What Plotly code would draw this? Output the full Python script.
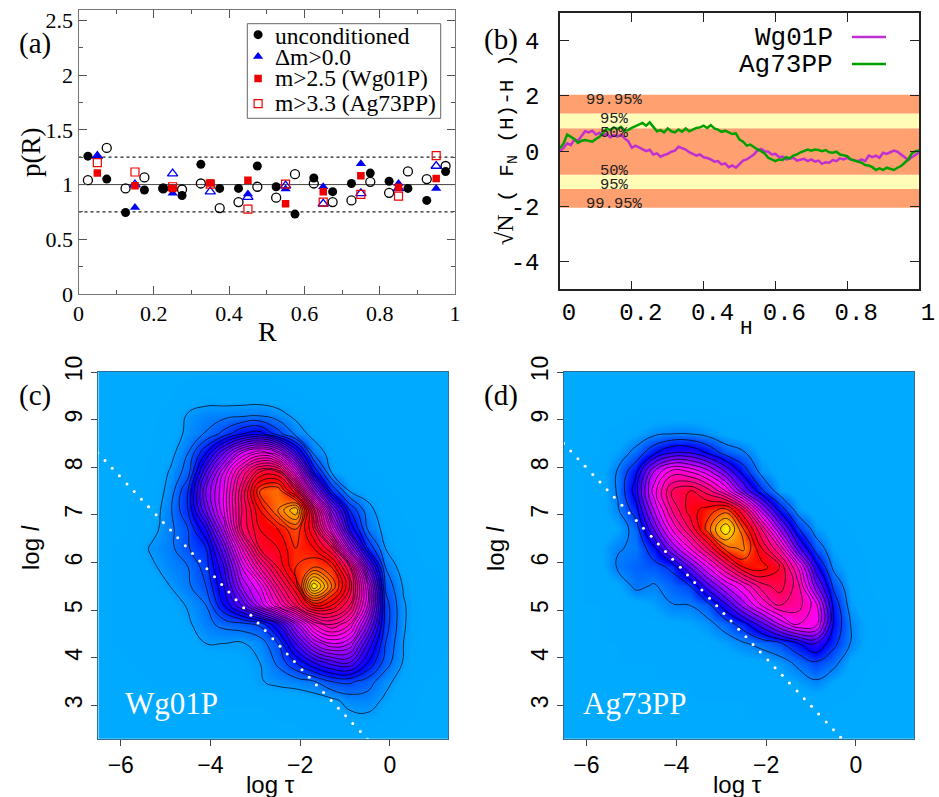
import plotly.graph_objects as go

W, H = 939, 797

# ---------- panel (a) ----------
R_half = [.025,.075,.125,.175,.225,.275,.325,.375,.425,.475,.525,.575,.625,.675,.725,.775,.825,.875,.925,.975]
uncond_filled = [1.26,1.05,.745,.95,.965,.90,1.185,.965,.965,1.17,.98,.73,1.06,.935,1.01,1.105,1.03,.965,.855,1.12]
uncond_open = [1.04,1.335,.965,1.065,.965,.955,1.01,.785,.84,.98,.88,1.095,1.01,.84,.855,1.025,.925,1.12,1.05,1.17]
R_tenth = [.05,.15,.25,.35,.45,.55,.65,.75,.85,.95]
dm_filled = [1.26,.79,.92,1.01,.915,.96,.98,1.19,1.01,.965]
dm_open = [1.26,1.0,1.10,.935,.885,.99,.825,.92,.965,1.17]
m_wg = [1.105,.99,.965,1.015,1.04,.825,.935,1.08,.975,1.055]
m_ag = [1.2,1.115,.98,1.005,.775,1.005,.84,.91,.895,1.265]
legend_labels = ["unconditioned", "Δm>0.0", "m>2.5 (Wg01P)", "m>3.3 (Ag73PP)"]

# ---------- panel (b) ----------
H_vals = [i/100 for i in range(101)]
wg01p = [0,.12,.28,.22,.42,.38,.55,.72,.68,.74,.60,.66,.58,.63,.50,.58,.53,.60,.46,.36,.12,.2,.14,.06,0,.05,-.12,-.08,-.2,-.14,-.1,-.02,.02,.16,.1,.06,-.04,-.1,-.16,-.12,-.22,-.25,-.3,-.38,-.36,-.48,-.44,-.58,-.52,-.6,-.46,-.34,-.3,-.22,-.12,.02,.08,.0,-.02,-.12,-.1,-.22,-.2,-.3,-.26,-.24,-.34,-.3,-.28,-.36,-.3,-.38,-.34,-.46,-.4,-.42,-.32,-.36,-.26,-.3,-.24,-.3,-.34,-.36,-.3,-.36,-.16,-.22,-.16,-.24,-.06,-.1,-.04,.02,-.02,-.12,-.22,-.32,-.22,-.14,-.05]
ag73pp = [.1,.28,.6,.52,.44,.3,.38,.4,.36,.34,.44,.52,.66,.82,.76,.86,.8,.88,.74,.76,.84,.9,.96,1.02,.92,1.04,.88,.72,.76,.68,.82,.72,.68,.78,.7,.82,.72,.78,.84,.86,.92,.84,.94,.82,.78,.7,.74,.68,.62,.64,.42,.34,.2,.24,.14,.06,.0,-.08,-.24,-.3,-.36,-.3,-.32,-.22,-.26,-.16,-.12,-.04,.02,.06,.02,.06,.04,.0,.04,-.04,-.06,-.02,-.12,-.14,-.18,-.3,-.34,-.4,-.42,-.5,-.52,-.58,-.68,-.62,-.68,-.6,-.64,-.68,-.6,-.54,-.42,-.3,-.08,.0,.02]
band_edges = [-2.05,-1.37,-.85,.83,1.36,2.04]
band_notes = [("99.95%",.151,1.84),("95%",.151,1.15),("50%",.151,.64),("50%",.151,-.72),("95%",.151,-1.24),("99.95%",.151,-1.93)]

# ---------- panels (c), (d) ----------
log_tau = [-6.5,-6.1,-5.7,-5.3,-4.9,-4.5,-4.1,-3.7,-3.3,-2.9,-2.5,-2.1,-1.7,-1.3,-.9,-.5,-.1,.3,.7,1.3]
log_l = [2.3,2.7,3.1,3.5,3.9,4.3,4.7,5.1,5.5,5.9,6.3,6.7,7.1,7.5,7.9,8.3,8.7,9.1,9.5,10]
wg_density = [
 [.0,.0,.0,.0,.0,.0,.0,.0,.0,.0,.0,.0,.05,.1,.1,.1,.05,.0,.0,.0],
 [.05,.05,.05,.05,.05,.05,.05,.05,.05,.05,.1,.1,.2,.3,.6,.7,.4,.1,.05,.0],
 [.05,.05,.05,.05,.05,.05,.1,.1,.1,.1,.1,.2,.4,.7,1.4,1.5,.8,.2,.05,.0],
 [.05,.05,.05,.1,.1,.1,.15,.2,.4,.9,1.3,1.5,1.9,3,3.2,2.5,1.3,.5,.1,.0],
 [.05,.05,.1,.1,.1,.15,.2,.3,.6,1,2.2,4,6,7.5,8,5,2.5,.9,.2,.05],
 [.05,.1,.1,.1,.2,.3,1,1,.9,1.4,3,7,11,13,12,7,3,1,.3,.05],
 [.05,.1,.1,.15,.3,.8,1.7,2.3,2.6,3.2,6,11,16,18,16,10,3.5,1.1,.3,.05],
 [.05,.1,.1,.2,.5,1.1,2,5,8,12,16,20,24,23,20,13,3.5,1.1,.3,.05],
 [.05,.1,.1,.3,1,1.8,3,6,11,14,19,23,32,27,22,13,2.8,.9,.2,.05],
 [.05,.1,.1,.8,1.5,2,3.5,7,13,18,22,25,26,25,20,9,2,.4,.1,.05],
 [.05,.1,.2,1.2,1.7,2.9,4,9,16,22,23,25,24,21,11,4,1,.2,.05,.0],
 [.05,.05,.1,.6,1.7,3,6,12,20,23,24,26,22,14,6,2,.6,.1,.05,.0],
 [.05,.05,.1,.3,1.8,4,9,14,20,24,27,30,20,10,4,1.4,.3,.05,.0,.0],
 [.05,.05,.1,.2,1.4,4,10,14,20,26,27,22,11,4,1,.5,.1,.05,.0,.0],
 [.05,.05,.05,.1,1.1,2.5,8,13,18,22,22,14,5,.9,.3,.1,.05,.0,.0,.0],
 [.0,.05,.05,.1,.6,2,5,9,13,15,13,7,1.8,.5,.1,.05,.0,.0,.0,.0],
 [.0,.0,.05,.05,.3,1.3,2.1,3.4,5,5.5,3.5,1.7,.6,.2,.05,.0,.0,.0,.0,.0],
 [.0,.0,.0,.05,.2,1.1,1.5,1.6,1.7,1.8,1.4,.7,.2,.05,.0,.0,.0,.0,.0,.0],
 [.0,.0,.0,.0,.05,.3,.4,.3,.3,.3,.2,.1,.05,.0,.0,.0,.0,.0,.0,.0],
 [.0,.0,.0,.0,.0,.0,.05,.05,.05,.05,.0,.0,.0,.0,.0,.0,.0,.0,.0,.0],
]
ag_density = [
 [.0]*20,
 [.0,.0,.0,.0,.0,.0,.05,.05,.05,.05,.05,.05,.05,.05,.05,.05,.0,.0,.0,.0],
 [.0,.0,.0,.0,.05,.05,.05,.05,.05,.05,.05,.1,.1,.1,.1,.05,.05,.0,.0,.0],
 [.0,.0,.0,.05,.05,.05,.05,.05,.1,.1,.1,.1,.2,.5,.9,.4,.1,.0,.0,.0],
 [.0,.0,.05,.05,.05,.05,.1,.1,.1,.15,.2,.3,.6,1.2,1.9,1.3,.3,.05,.0,.0],
 [.0,.05,.05,.05,.1,.1,.15,.2,.3,.5,.9,1.3,1.8,2.9,4,2.3,.9,.2,.05,.0],
 [.0,.05,.05,.1,.1,.2,.3,.4,.7,1.4,2.5,4.5,7,9,8.5,2.9,.9,.2,.05,.0],
 [.0,.05,.05,.1,.2,.5,.95,1.0,1.6,3.7,6.5,9,11,10.5,8.5,2.7,.5,.1,.0,.0],
 [.0,.05,.1,.3,1.2,.9,1.4,1.9,4.5,7,9,11.5,12.5,10.5,5.5,1.8,.3,.05,.0,.0],
 [.0,.05,.2,1.1,1.4,1.6,2.2,5,8,11,14,14.5,13,9,3.5,.8,.2,.05,.0,.0],
 [.0,.05,.3,.95,1.1,2.7,6,9,12,15.5,16.3,13,10,4.5,1.6,.4,.1,.0,.0,.0],
 [.0,.05,.1,.4,1.4,5,9,12,15.5,19,15,11,6,2.2,.6,.1,.05,.0,.0,.0],
 [.0,.05,.1,.9,2.5,7,11,13.5,14.5,15.5,12,6.5,2.7,.6,.1,.05,.0,.0,.0,.0],
 [.0,.05,.1,1.1,3.5,8.5,12,13,11.5,9,5,2.2,.5,.1,.05,.0,.0,.0,.0,.0],
 [.0,.05,.1,1.1,2.8,7,9.5,9,7.5,5,2.5,.7,.2,.05,.0,.0,.0,.0,.0,.0],
 [.0,.0,.05,.5,1.3,2.8,4,4,2.9,1.6,1.1,.3,.1,.0,.0,.0,.0,.0,.0,.0],
 [.0,.0,.05,.1,.4,.8,1,1,.7,.3,.1,.05,.0,.0,.0,.0,.0,.0,.0,.0],
 [.0,.0,.0,.0,.05,.1,.1,.1,.1,.05,.05,.0,.0,.0,.0,.0,.0,.0,.0,.0],
 [.0]*20,
 [.0]*20,
]
dots_c_x = [-6.51,-6.35,-6.19,-6.03,-5.86,-5.70,-5.54,-5.38,-5.21,-5.05,-4.89,-4.73,-4.56,-4.40,-4.24,-4.08,-3.91,-3.75,-3.59,-3.43,-3.26,-3.10,-2.94,-2.78,-2.61,-2.45,-2.29,-2.13,-1.96,-1.80,-1.64,-1.48,-1.31,-1.15,-.99,-.83,-.66,-.50]
dots_c_y = [8.30,8.14,7.98,7.82,7.65,7.49,7.33,7.17,7.00,6.84,6.68,6.52,6.35,6.19,6.03,5.87,5.70,5.54,5.38,5.22,5.05,4.89,4.73,4.57,4.40,4.24,4.08,3.92,3.75,3.59,3.43,3.27,3.10,2.94,2.78,2.62,2.45,2.29]
dots_d_x = [-6.51,-6.35,-6.19,-6.03,-5.86,-5.70,-5.54,-5.38,-5.21,-5.05,-4.89,-4.73,-4.56,-4.40,-4.24,-4.08,-3.91,-3.75,-3.59,-3.43,-3.26,-3.10,-2.94,-2.78,-2.61,-2.45,-2.29,-2.13,-1.96,-1.80,-1.64,-1.48,-1.31,-1.15,-.99,-.83,-.66,-.50,-.34]
dots_d_y = [8.50,8.34,8.18,8.02,7.85,7.69,7.53,7.37,7.20,7.04,6.88,6.72,6.55,6.39,6.23,6.07,5.90,5.74,5.58,5.42,5.25,5.09,4.93,4.77,4.60,4.44,4.28,4.12,3.95,3.79,3.63,3.47,3.30,3.14,2.98,2.82,2.65,2.49,2.33]

SERIF = "Liberation Serif"
SANS = "Liberation Sans"
MONO = "Liberation Mono"

def px(x): return x / W
def py(y): return 1 - y / H

fig = go.Figure()

def note(text, x, y, font, size, color="black", angle=0, xa="center", ya="middle"):
    fig.add_annotation(text=text, x=px(x), y=py(y), xref="paper", yref="paper", showarrow=False,
                       font=dict(family=font, size=size, color=color), textangle=angle,
                       xanchor=xa, yanchor=ya, align="center")

BLUE, RED = "#0000ee", "#ee0000"
def pts(x, y, sym, color, size=10, lw=1.6):
    fig.add_trace(go.Scatter(x=x, y=y, mode="markers", xaxis="x", yaxis="y", showlegend=False,
                             marker=dict(symbol=sym, color=color, size=size, line=dict(color=color, width=lw))))
fig.add_trace(go.Scatter(x=[0,1], y=[1,1], mode="lines", line=dict(color="#444", width=1), showlegend=False, xaxis="x", yaxis="y"))
for v in (.75, 1.25):
    fig.add_trace(go.Scatter(x=[0,1], y=[v,v], mode="lines", line=dict(color="#222", width=1.2, dash="dot"), showlegend=False, xaxis="x", yaxis="y"))
pts(R_half, uncond_open, "circle-open", "black", 9, 1.3)
pts(R_half, uncond_filled, "circle", "black", 9, 0)
pts(R_tenth, dm_open, "triangle-up-open", BLUE, 9, 1.3)
pts(R_tenth, dm_filled, "triangle-up", BLUE, 9, 0)
pts(R_tenth, m_ag, "square-open", RED, 8, 1.2)
pts(R_tenth, m_wg, "square", RED, 7.5, 0)
key_x = [.477]
for yv, sym, col, s in zip([2.37, 2.17, 1.97, 1.74], ["circle","triangle-up","square","square-open"], ["black",BLUE,RED,RED], [9,9,7.5,8]):
    pts(key_x, [yv], sym, col, s, 1.2 if "open" in sym else 0)
for t, yy in zip(legend_labels, [36, 57, 78, 103]):
    note(t, 273, yy, SERIF, 23.5, xa="left")

fig.add_trace(go.Scatter(x=H_vals, y=wg01p, mode="lines", line=dict(color="#c030d0", width=2.5), showlegend=False, xaxis="x2", yaxis="y2"))
fig.add_trace(go.Scatter(x=H_vals, y=ag73pp, mode="lines", line=dict(color="#00a000", width=2.5), showlegend=False, xaxis="x2", yaxis="y2"))
for t, xv, yv in band_notes:
    fig.add_annotation(text=t, x=xv, y=yv, xref="x2", yref="y2", showarrow=False,
                       font=dict(family=MONO, size=15.5, color="#222"))

SCALE = [[0,"#00aaff"],[.02,"#00a6ff"],[.147,"#0000ff"],[.41,"#ff00ff"],[.70,"#ff0000"],[.82,"#ff9000"],[.93,"#ffee00"],[1,"#ffff00"]]
def dens(z, xa, ya, top):
    fig.add_trace(go.Contour(x=log_tau, y=log_l, z=z, xaxis=xa, yaxis=ya, showscale=False, colorscale=SCALE,
                             zmin=0, zmax=top, contours=dict(start=1, end=top-1, size=1, coloring="heatmap"),
                             line=dict(color="black", width=.7, smoothing=1.3)))
dens(wg_density, "x3", "y3", 34)
dens(ag_density, "x4", "y4", 20)
dot = dict(color="white", size=3)
fig.add_trace(go.Scatter(x=dots_c_x, y=dots_c_y, mode="markers", marker=dot, showlegend=False, xaxis="x3", yaxis="y3"))
fig.add_trace(go.Scatter(x=dots_d_x, y=dots_d_y, mode="markers", marker=dot, showlegend=False, xaxis="x4", yaxis="y4"))

shapes = []
shapes.append(dict(type="rect", xref="paper", yref="paper", x0=px(247.3), x1=px(440.7), y0=py(118.3), y1=py(23.7),
                   line=dict(color="#666", width=1), fillcolor="white", layer="below"))
for i, c in enumerate(["#ffa070","#fffcb8","#ffa070","#fffcb8","#ffa070"]):
    shapes.append(dict(type="rect", xref="x2", yref="y2", x0=0, x1=1, y0=band_edges[i], y1=band_edges[i+1],
                       fillcolor=c, line=dict(width=0), layer="below"))
shapes.append(dict(type="line", xref="paper", yref="paper", x0=px(852), x1=px(886), y0=py(37), y1=py(37), line=dict(color="#c030d0", width=2.5)))
shapes.append(dict(type="line", xref="paper", yref="paper", x0=px(852), x1=px(886), y0=py(64), y1=py(64), line=dict(color="#00a000", width=2.5)))

note("Wg01P", 835, 38, MONO, 26, xa="right")
note("Ag73PP", 835, 65, MONO, 26, xa="right")

note("(a)", 17, 43, SERIF, 29, xa="left")
note("(b)", 482, 40, SERIF, 29, xa="left")
note("(c)", 17, 395, SERIF, 29, xa="left")
note("(d)", 482, 395, SERIF, 29, xa="left")
note("R", 267, 331, SERIF, 28)
note("p(R)", 31, 152, SERIF, 27, angle=-90)
note("H", 746, 328, MONO, 21)
note('<span style="font-family:Liberation Serif;font-size:24px">√N</span> ( F<sub>N</sub> (H)-H )', 507, 150, MONO, 21, angle=-90)
note("log τ", 270, 784, SANS, 24)
note("log τ", 737, 784, SANS, 24)
note("log <i>l</i>", 30, 548, SANS, 24, angle=-90)
note("log <i>l</i>", 495, 548, SANS, 24, angle=-90)
note("Wg01P", 123, 703, SERIF, 31, color="white", xa="left")
note("Ag73PP", 581, 703, SERIF, 31, color="white", xa="left")

def dom(a, b, t, bt): return dict(x=[px(a), px(b)], y=[py(bt), py(t)])
da = dom(78.5, 455, 9.5, 294)
db = dom(560, 919, 13, 289.3)
dc = dom(98.3, 448.3, 372, 738.7)
dd = dom(564, 914.3, 372, 738.7)

tick_a = dict(family=SERIF, size=22, color="black")
tick_b = dict(family=MONO, size=24, color="black")
tick_c = dict(family=SANS, size=23, color="black")

layout = dict(
    width=W, height=H, margin=dict(l=0, r=0, t=0, b=0, autoexpand=False), paper_bgcolor="white", plot_bgcolor="white", showlegend=False,
    shapes=shapes,
    xaxis=dict(domain=da["x"], range=[0,1], anchor="y", tickvals=[0,.2,.4,.6,.8,1], ticktext=["0","0.2","0.4","0.6","0.8","1"],
               ticks="inside", ticklen=8, tickcolor="#555", showline=True, linecolor="#777", mirror="ticks", showgrid=False, zeroline=False, tickfont=tick_a,
               minor=dict(ticks="inside", ticklen=4, tickcolor="#555", tickvals=[.1,.3,.5,.7,.9])),
    yaxis=dict(domain=da["y"], range=[0,2.6], anchor="x", tickvals=[0,.5,1,1.5,2,2.5], ticktext=["0","0.5","1","1.5","2","2.5"],
               ticks="inside", ticklen=8, tickcolor="#555", showline=True, linecolor="#777", mirror="ticks", showgrid=False, zeroline=False, tickfont=tick_a,
               minor=dict(ticks="inside", ticklen=4, tickcolor="#555", tickvals=[.25,.75,1.25,1.75,2.25])),
    xaxis2=dict(domain=db["x"], range=[0,1], anchor="y2", tickvals=[0,.2,.4,.6,.8,1], ticktext=["0","0.2","0.4","0.6","0.8","1"],
                ticks="inside", ticklen=9, tickcolor="#222", tickwidth=1.3, showline=True, linecolor="#222", linewidth=1.5, mirror="ticks", showgrid=False, zeroline=False,
                tickfont=tick_b, ticklabelshift=9),
    yaxis2=dict(domain=db["y"], range=[-5,5], anchor="x2", tickvals=[-4,-2,0,2,4], ticktext=["-4","-2","0","2","4"],
                ticks="inside", ticklen=9, tickcolor="#222", tickwidth=1.3, showline=True, linecolor="#222", linewidth=1.5, mirror="ticks", showgrid=False, zeroline=False,
                tickfont=tick_b, ticklabelstandoff=14),
)
for n, d, ya in (("3", dc, "y3"), ("4", dd, "y4")):
    layout["xaxis"+n] = dict(domain=d["x"], range=[-6.5,1.3], anchor=ya, tickvals=[-6,-4,-2,0], ticks="outside", ticklen=6, tickcolor="#445",
                             showline=True, linecolor="#2f6f96", mirror=True, showgrid=False, zeroline=False, tickfont=tick_c)
    layout["yaxis"+n] = dict(domain=d["y"], range=[2.3,10], anchor="x"+n, tickvals=[3,4,5,6,7,8,9,10], ticks="outside", ticklen=6, tickcolor="#445",
                             showline=True, linecolor="#2f6f96", mirror=True, showgrid=False, zeroline=False, tickfont=tick_c, tickangle=-90)
fig.update_layout(**layout)
fig.write_html("out.html", config=dict(displayModeBar=False), post_script="document.body.style.margin='0';")
